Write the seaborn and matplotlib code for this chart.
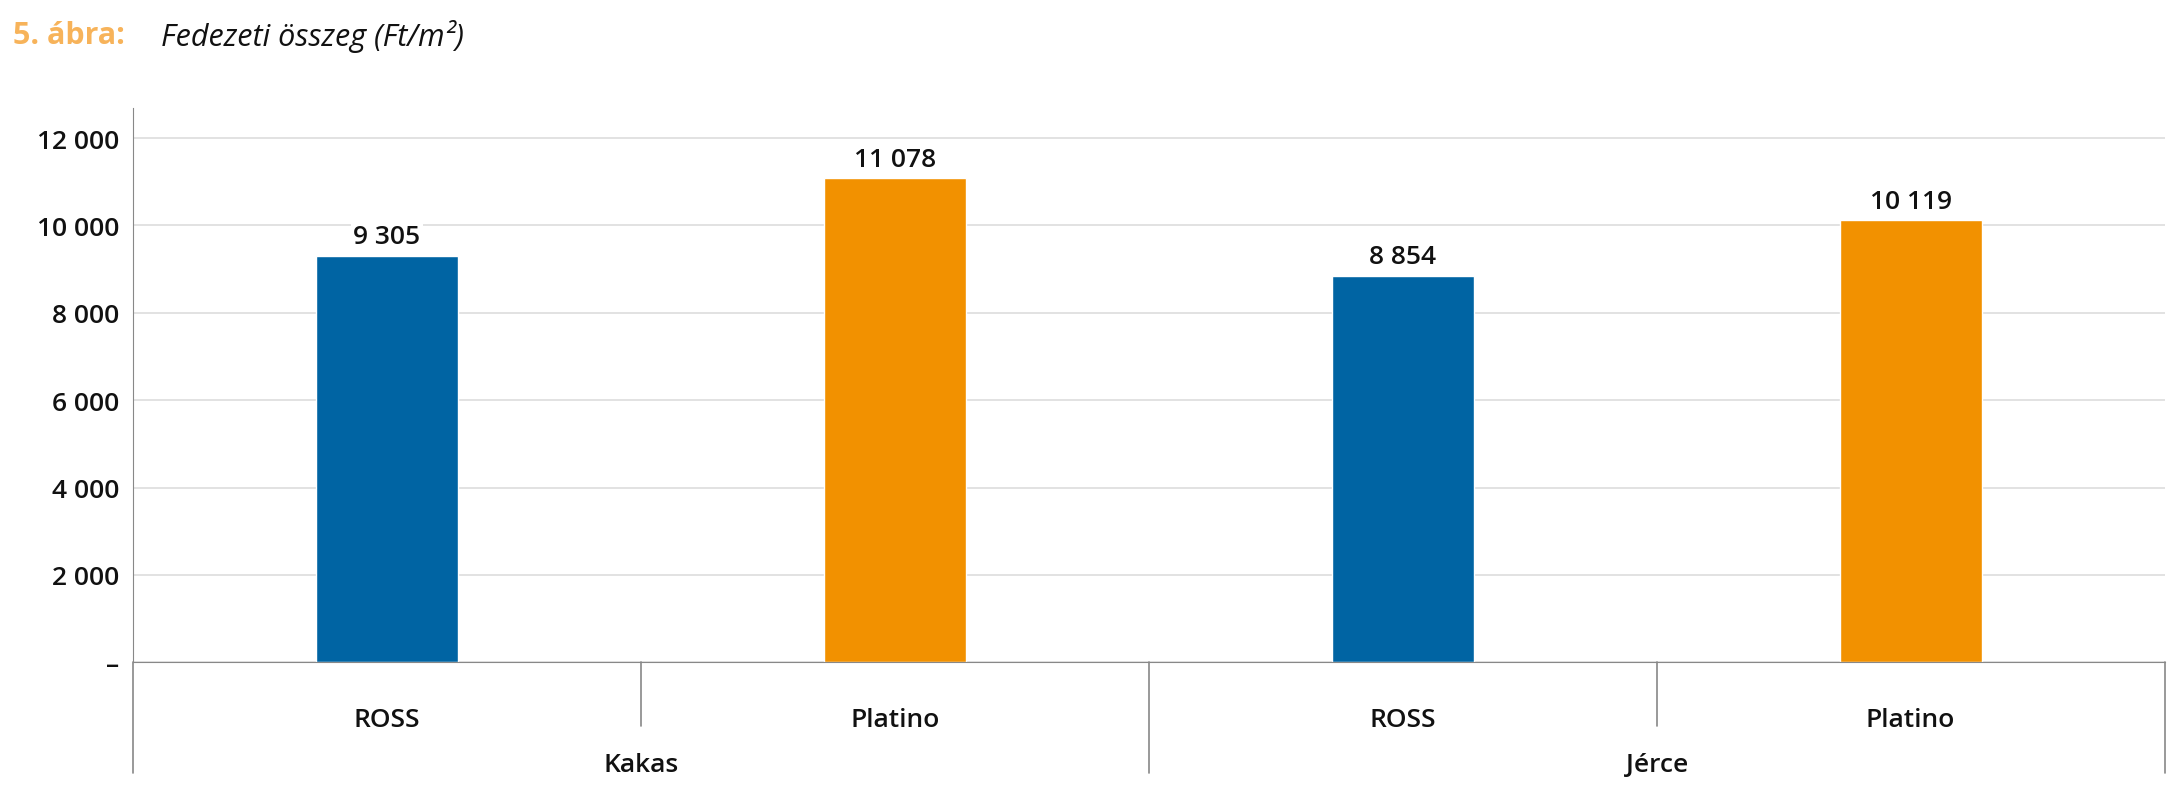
import matplotlib
matplotlib.use("Agg")
import matplotlib.pyplot as plt
import matplotlib.transforms as mtransforms
import pandas as pd
import seaborn as sns

groups = ["Kakas", "Kakas", "Jérce", "Jérce"]
breeds = ["ROSS", "Platino", "ROSS", "Platino"]
values = [9305, 11078, 8854, 10119]
yticks = [0, 2000, 4000, 6000, 8000, 10000, 12000]
ytick_labels = ["–", "2 000", "4 000", "6 000", "8 000", "10 000", "12 000"]
colors = {"ROSS": "#0064A3", "Platino": "#F29100"}

df = pd.DataFrame({"key": [g + " " + b for g, b in zip(groups, breeds)],
                   "breed": breeds, "value": values})

sns.set_style("white")
plt.rcParams["font.family"] = ["Open Sans", "DejaVu Sans"]
plt.rcParams["font.weight"] = "semibold"
plt.rcParams["text.color"] = "#111111"
plt.rcParams["xtick.color"] = "#111111"
plt.rcParams["ytick.color"] = "#111111"

fig = plt.figure(figsize=(21.82, 8.04), dpi=100)
ax = fig.add_axes([0.061, 0.175, 0.931, 0.69])
sns.barplot(data=df, x="key", y="value", hue="breed", palette=colors,
            dodge=False, width=0.28, legend=False, ax=ax, zorder=2,
            saturation=1)

ax.set_ylim(0, 12700)
ax.set_xlim(-0.5, 3.5)
ax.set_yticks(yticks)
ax.set_yticklabels(ytick_labels, fontsize=19, fontweight="semibold")
ax.yaxis.grid(True, color="#dddddd", linewidth=1.2, zorder=0)
ax.set_axisbelow(True)
ax.set_xlabel("")
ax.set_ylabel("")
ax.set_xticks(range(4))
ax.set_xticklabels(breeds, fontsize=19, fontweight="semibold")
ax.tick_params(axis="x", length=0, pad=32)
ax.tick_params(axis="y", length=0, pad=10)
for s in ["top", "right"]:
    ax.spines[s].set_visible(False)
for s in ["left", "bottom"]:
    ax.spines[s].set_color("#888888")

for i, v in enumerate(values):
    ax.text(i, v + 150, f"{v:,}".replace(",", " "), ha="center", va="bottom",
            fontsize=19, zorder=3, fontweight="semibold",
            bbox=dict(facecolor="white", edgecolor="none", pad=2))

trans = mtransforms.blended_transform_factory(ax.transData, ax.transAxes)
for x in [0.5, 2.5]:
    ax.plot([x, x], [0, -0.115], transform=trans, color="#888888", lw=1.2, clip_on=False)
for x in [-0.5, 1.5, 3.5]:
    ax.plot([x, x], [0, -0.2], transform=trans, color="#888888", lw=1.2, clip_on=False)
for x, g in [(0.5, "Kakas"), (2.5, "Jérce")]:
    ax.text(x, -0.185, g, transform=trans, ha="center", va="center",
            fontsize=19, fontweight="semibold")

fig.text(0.006, 0.955, "5. ábra:", color="#F7B35A", fontsize=22, fontweight="bold",
         va="center")
fig.text(0.074, 0.955, "Fedezeti összeg (Ft/m²)", fontsize=22, style="italic",
         fontweight="normal", va="center")

fig.savefig("out.png", dpi=100)
